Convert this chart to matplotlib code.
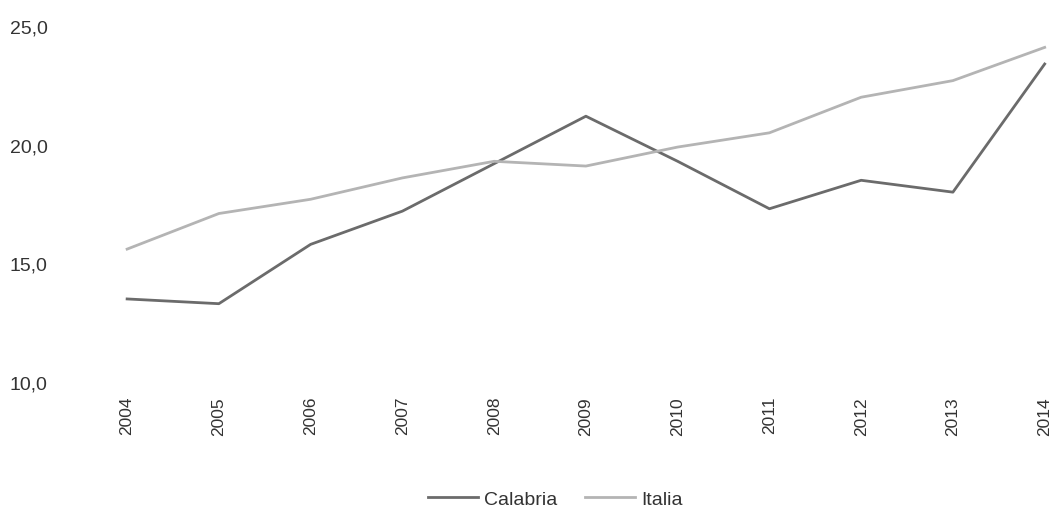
import numpy as np
import matplotlib.pyplot as plt

plt.rcParams['font.family'] = ['Liberation Sans', 'DejaVu Sans']

anni = ['2004', '2005', '2006', '2007', '2008', '2009', '2010', '2011', '2012', '2013', '2014']
calabria = [13.5, 13.3, 15.8, 17.2, 19.2, 21.2, 19.3, 17.3, 18.5, 18.0, 23.4]
italia = [15.6, 17.1, 17.7, 18.6, 19.3, 19.1, 19.9, 20.5, 22.0, 22.7, 24.1]
yticks = [10, 15, 20, 25]

fig = plt.figure(figsize=(10.59, 5.10), dpi=100)
ax = fig.add_axes([0.071, 0.249, 0.925, 0.698])

x = np.arange(len(anni))
ax.plot(x, calabria, color='#6b6b6b', lw=2.0, label='Calabria', clip_on=False)
ax.plot(x, italia, color='#b4b4b4', lw=2.0, label='Italia', clip_on=False)

ax.set_xlim(-0.566, 10.11)
ax.set_ylim(10, 25)
ax.set_yticks(yticks)
ax.set_yticklabels([f'{v:.1f}'.replace('.', ',') for v in yticks], fontsize=14, color='#333333')
ax.set_xticks(x)
ax.set_xticklabels(anni, rotation=90, fontsize=12.5, color='#333333')
ax.tick_params(length=0)
ax.tick_params(axis='x', pad=10)
ax.tick_params(axis='y', pad=20)
for s in ax.spines.values():
    s.set_visible(False)

ax.legend(loc='upper center', bbox_to_anchor=(0.49, -0.255), ncol=2, frameon=False,
          fontsize=14, handlelength=2.6, handletextpad=0.3, columnspacing=1.4,
          labelcolor='#333333')

fig.savefig('out.png', dpi=100)
